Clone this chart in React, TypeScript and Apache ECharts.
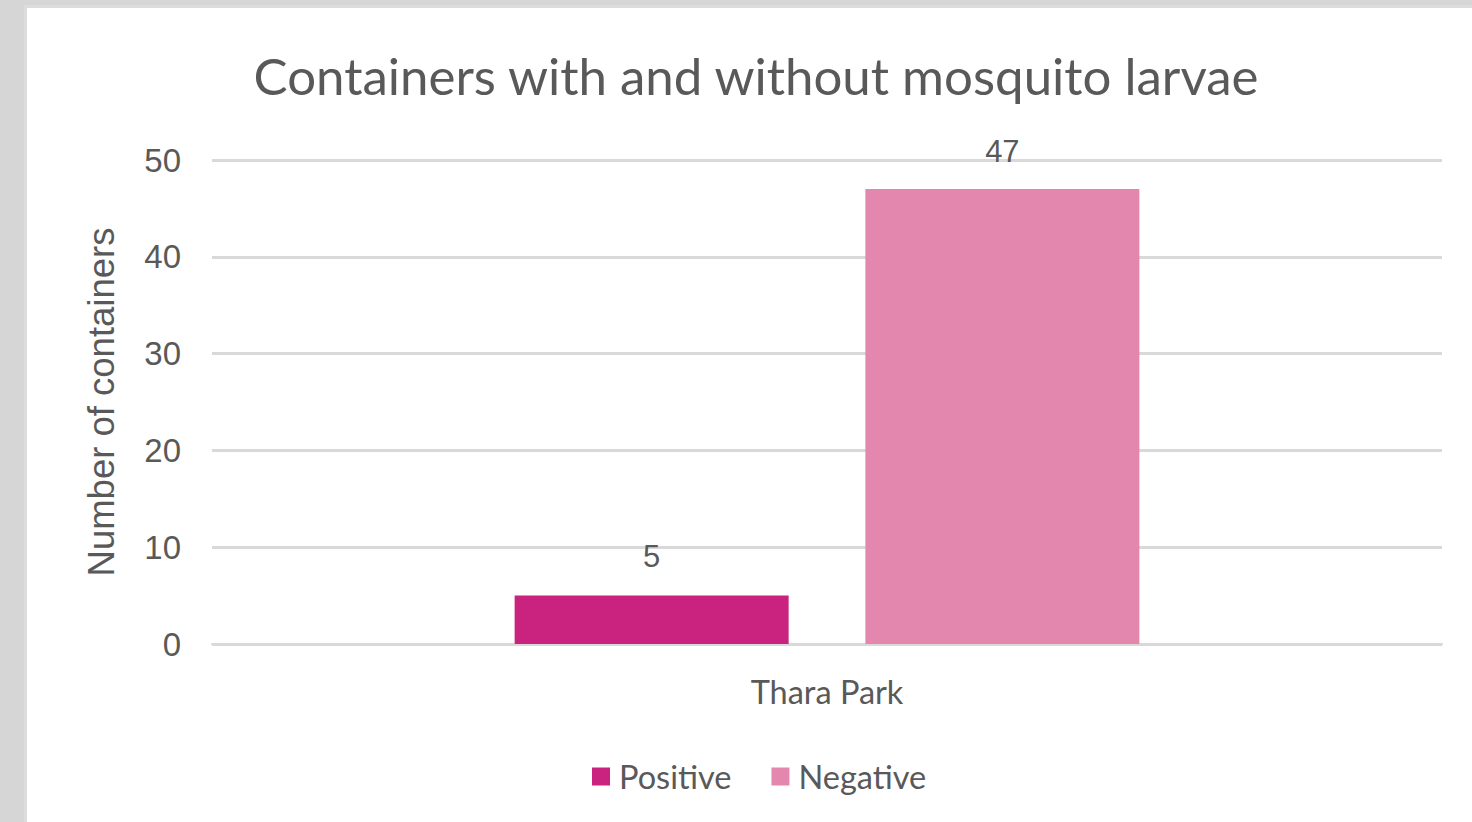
import React, { useEffect, useRef } from "react";
import * as echarts from "echarts";

const categories = ["Thara Park"];
const positiveValues = [5];
const negativeValues = [47];
const seriesNames = ["Positive", "Negative"];
const titleText = "Containers with and without mosquito larvae";
const yAxisName = "Number of containers";

export default function App() {
  const ref = useRef<HTMLDivElement>(null);
  useEffect(() => {
    if (!ref.current) return;
    const chart = echarts.init(ref.current, undefined, { renderer: "svg" });
    const textColor = "#595959";
    chart.setOption({
      animation: false,
      title: {
        text: titleText,
        left: 751,
        top: 45,
        textAlign: "center",
        textStyle: { fontFamily: "Lato", fontSize: 51, fontWeight: "normal", color: textColor },
      },
      grid: { left: 212, right: 30, top: 160, bottom: 178 },
      legend: {
        data: seriesNames,
        left: 587,
        top: 755,
        itemWidth: 18,
        itemHeight: 18,
        itemGap: 40,
        icon: "rect",
        textStyle: { fontFamily: "Lato", fontSize: 32.5, color: textColor, padding: [0, 0, 0, 4] },
      },
      xAxis: {
        type: "category",
        data: categories,
        axisLine: { show: true, lineStyle: { color: "#d9d9d9", width: 2 } },
        axisTick: { show: false },
        axisLabel: { fontFamily: "Lato", fontSize: 32.5, color: textColor, margin: 31 },
      },
      yAxis: {
        type: "value",
        min: 0,
        max: 50,
        interval: 10,
        name: yAxisName,
        nameLocation: "middle",
        nameRotate: 90,
        nameGap: 92,
        nameTextStyle: { fontFamily: "Liberation Sans", fontSize: 36.5, color: textColor },
        axisLine: { show: false },
        axisTick: { show: false },
        axisLabel: { fontFamily: "Liberation Sans", fontSize: 33, color: textColor, margin: 31 },
        splitLine: { lineStyle: { color: "#d9d9d9", width: 3 } },
      },
      series: [
        {
          name: seriesNames[0],
          type: "bar",
          data: positiveValues,
          barWidth: 274,
          barGap: "28%",
          itemStyle: { color: "#C9227F" },
          label: { show: true, position: "top", distance: 24, fontFamily: "Liberation Sans", fontSize: 31, color: textColor },
        },
        {
          name: seriesNames[1],
          type: "bar",
          data: negativeValues,
          barWidth: 274,
          barGap: "28%",
          itemStyle: { color: "#E487AE" },
          label: { show: true, position: "top", distance: 22, fontFamily: "Liberation Sans", fontSize: 31, color: textColor },
        },
      ],
    });
    return () => chart.dispose();
  }, []);

  return (
    <div style={{ position: "fixed", left: 0, top: 0, width: 1472, height: 822, background: "#d6d6d6", overflow: "hidden" }}>
      <div
        style={{
          position: "absolute",
          left: 24,
          top: 5,
          width: 1472,
          height: 840,
          background: "#ffffff",
          border: "3px solid #dcdcdc",
          boxSizing: "border-box",
        }}
      />
      <div ref={ref} style={{ position: "absolute", left: 0, top: 0, width: 1472, height: 822 }} />
    </div>
  );
}
